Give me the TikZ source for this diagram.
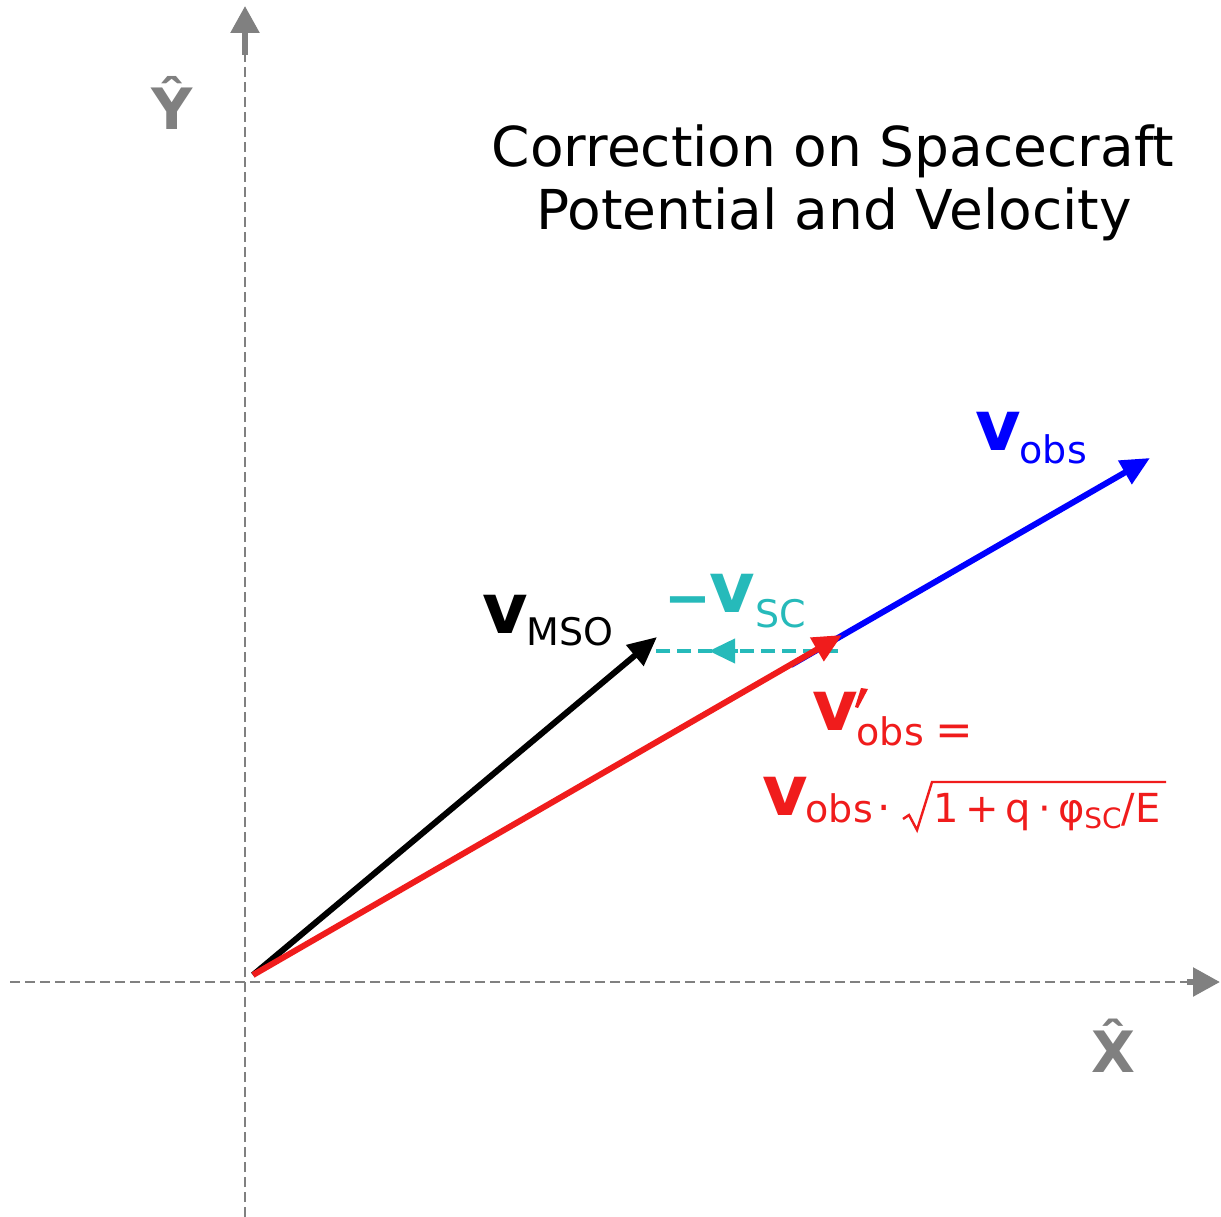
\documentclass[tikz,border=0pt]{standalone}
\usepackage{fontspec}
\setmainfont{DejaVu Sans}
\usetikzlibrary{arrows.meta}
\definecolor{axgray}{RGB}{128,128,128}
\definecolor{vred}{RGB}{240,28,28}
\definecolor{vblue}{RGB}{0,0,255}
\definecolor{vcyan}{RGB}{38,186,186}
\newcommand\bigv{{\fontsize{70}{70}\selectfont\bfseries v}}
\newcommand\subt[1]{{\fontsize{38}{38}\selectfont #1}}
\newcommand\regt[1]{{\fontsize{40}{40}\selectfont #1}}
\begin{document}
\begin{tikzpicture}[x=1pt,y=-1pt,
  axisline/.style={axgray, line width=2.8pt, dash pattern=on 10pt off 5pt},
  axhead/.style={axgray, line width=5.5pt, -{Triangle[length=27pt,width=28pt]}},
  vec/.style={line width=6pt, -{Triangle[length=29pt,width=26pt]}},
  cdash/.style={vcyan, line width=4pt, dash pattern=on 14pt off 7pt},
  chead/.style={vcyan, line width=4pt, -{Triangle[length=26pt,width=24pt]}},
  lbl/.style={inner sep=0pt, outer sep=0pt, anchor=base west},
  axlbl/.style={inner sep=0pt, outer sep=0pt, anchor=base, text=axgray, font=\fontsize{57}{57}\selectfont\bfseries},
  ttl/.style={inner sep=0pt, outer sep=0pt, anchor=base, font=\fontsize{55}{63}\selectfont}]
\useasboundingbox (0,0) rectangle (1221,1217);
\fill[white] (0,0) rectangle (1221,1217);

% axes
\coordinate (ybot) at (245,1217);
\coordinate (ystem) at (245,55);
\coordinate (ytip) at (245,6);
\coordinate (xleft) at (10,982);
\coordinate (xstem) at (1187,982);
\coordinate (xtip) at (1220,982);
\draw[axisline] (ybot) -- (ystem);
\draw[axhead] (ystem) -- (ytip);
\draw[axisline] (xleft) -- (xstem);
\draw[axhead] (xstem) -- (xtip);
\node[axlbl] (ylab) at (172,130) {\^{Y}};
\node[axlbl] (xlab) at (1113,1072) {\^{X}};

% title
\node[ttl] (t1) at (833,167) {Correction on Spacecraft};
\node[ttl] (t2) at (834,230) {Potential and Velocity};

% vectors
\coordinate (O) at (253,975);
\coordinate (bstart) at (791,665);
\coordinate (obs) at (1150,458);
\coordinate (obsp) at (842,635);
\coordinate (mso) at (657,637);
\coordinate (cs) at (838,651);
\coordinate (ce) at (655,651);
\coordinate (cm1) at (738,651);
\coordinate (cm2) at (709,651);

\draw[vec, vblue] (bstart) -- (obs);
\draw[cdash] (cs) -- (ce);
\draw[chead] (cm1) -- (cm2);
\draw[vec, black] (O) -- (mso);
\draw[vec, vred] (O) -- (obsp);

% labels
\node[lbl, text=vblue] (lobs) at (975,463) {\raisebox{13pt}{\bigv}\kern-1pt\subt{obs}};
\node[lbl, text=black] (lmso) at (482,645) {\raisebox{12pt}{\bigv}\kern-1pt\subt{MSO}};
\node[lbl, text=vcyan] (lsc) at (664,627) {\raisebox{10pt}{\fontsize{56}{56}\selectfont\bfseries −}\kern-1pt\raisebox{15pt}{\bigv}\kern0pt\subt{SC}};
\node[lbl, text=vred] (lp1) at (812,745) {\raisebox{15pt}{\bigv}\kern-1pt\subt{obs}\kern12pt{\fontsize{45}{45}\selectfont =}};
\coordinate (pr1) at (861,688);
\coordinate (pr2) at (868,689);
\coordinate (pr3) at (858,708);
\coordinate (pr4) at (855,707);
\fill[vred] (pr1) -- (pr2) -- (pr3) -- (pr4) -- cycle;
\node[lbl, text=vred] (lp2) at (762,822) {\raisebox{7pt}{\bigv}\kern-2pt\subt{obs}\kern5pt{\fontsize{42}{42}\selectfont ·}};
\node[lbl, text=vred] (lp3) at (933,822) {\regt{1\kern7pt+\kern7pt q\kern7pt·\kern7pt φ}\raisebox{-6pt}{\fontsize{28}{28}\selectfont SC}\regt{/E}};
\coordinate (r1) at (903,819);
\coordinate (r2) at (909,815);
\coordinate (r3) at (917,830);
\coordinate (r4) at (932,782);
\coordinate (r5) at (1166,782);
\draw[vred, line width=2.4pt, line join=miter] (r1) -- (r2) -- (r3) -- (r4) -- (r5);
\end{tikzpicture}
\end{document}
